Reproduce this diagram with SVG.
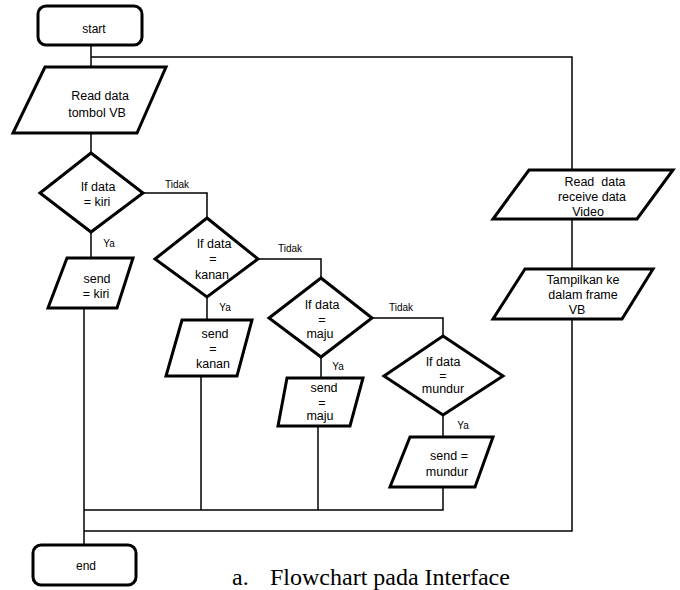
<svg xmlns="http://www.w3.org/2000/svg" width="680" height="590" viewBox="0 0 680 590">
<style>
.shape{fill:#fff;stroke:#000;stroke-width:3;stroke-linejoin:miter}
.conn{fill:none;stroke:#000;stroke-width:1.5}
.t{font-family:"Liberation Sans",Arial,sans-serif;font-size:12.5px;fill:#000;text-anchor:middle}
.term{font-family:"Liberation Sans",Arial,sans-serif;font-size:12px;fill:#000;text-anchor:middle}
.lbl{font-family:"Liberation Sans",Arial,sans-serif;font-size:10px;fill:#000;text-anchor:middle}
.cap{font-family:"Liberation Serif","Times New Roman",serif;font-size:24px;fill:#000}
</style>
<rect width="680" height="590" fill="#fff"/>
<g id="connectors">
<path class="conn" d="M91,45 V67"/>
<path class="conn" d="M91,57 H572 V170"/>
<path class="conn" d="M91,133 V153"/>
<path class="conn" d="M91,232 V258"/>
<path class="conn" d="M143,193 H207 V218"/>
<path class="conn" d="M207,297 V320"/>
<path class="conn" d="M258,259 H321 V278"/>
<path class="conn" d="M321,357 V378"/>
<path class="conn" d="M372,318 H443 V336"/>
<path class="conn" d="M443,415 V437"/>
<path class="conn" d="M84,308 V545"/>
<path class="conn" d="M201,376 V510"/>
<path class="conn" d="M318,426 V510"/>
<path class="conn" d="M443,487 V510 H84"/>
<path class="conn" d="M572,219 V269"/>
<path class="conn" d="M572,319 V531 H84"/>
<text class="lbl" x="177" y="188">Tidak</text>
<text class="lbl" x="109" y="247">Ya</text>
<text class="lbl" x="290" y="252">Tidak</text>
<text class="lbl" x="225" y="311">Ya</text>
<text class="lbl" x="401" y="311">Tidak</text>
<text class="lbl" x="338" y="370">Ya</text>
<text class="lbl" x="463" y="429">Ya</text>
</g>
<g id="start">
<rect class="shape" x="38" y="6" width="104" height="39" rx="8"/>
<text class="term" x="94" y="33">start</text>
</g>
<g id="read-tombol">
<polygon class="shape" points="45,67 166,67 137,133 13,133"/>
<text class="t" x="100" y="100">Read data</text>
<text class="t" x="97" y="117">tombol VB</text>
</g>
<g id="if-kiri">
<polygon class="shape" points="91,153 143,193 91,232 40,193"/>
<text class="t" x="98" y="191">If data</text>
<text class="t" x="97" y="206">= kiri</text>
</g>
<g id="send-kiri">
<polygon class="shape" points="67,258 133,258 117,308 48,308"/>
<text class="t" x="97" y="283">send</text>
<text class="t" x="96" y="298">= kiri</text>
</g>
<g id="if-kanan">
<polygon class="shape" points="207,218 258,259 207,297 155,259"/>
<text class="t" x="214" y="248">If data</text>
<text class="t" x="213" y="263">=</text>
<text class="t" x="212" y="279">kanan</text>
</g>
<g id="send-kanan">
<polygon class="shape" points="182,320 252,320 237,376 166,376"/>
<text class="t" x="215" y="338">send</text>
<text class="t" x="213" y="353">=</text>
<text class="t" x="213" y="368">kanan</text>
</g>
<g id="if-maju">
<polygon class="shape" points="321,278 372,318 321,357 269,318"/>
<text class="t" x="322" y="309">If data</text>
<text class="t" x="322" y="324">=</text>
<text class="t" x="320" y="338">maju</text>
</g>
<g id="send-maju">
<polygon class="shape" points="287,378 363,378 350,426 278,426"/>
<text class="t" x="324" y="392">send</text>
<text class="t" x="322" y="407">=</text>
<text class="t" x="320" y="420">maju</text>
</g>
<g id="if-mundur">
<polygon class="shape" points="443,336 503,376 443,415 384,376"/>
<text class="t" x="443" y="366">If data</text>
<text class="t" x="443" y="380">=</text>
<text class="t" x="443" y="393">mundur</text>
</g>
<g id="send-mundur">
<polygon class="shape" points="410,437 493,437 475,487 390,487"/>
<text class="t" x="449" y="460">send =</text>
<text class="t" x="447" y="476">mundur</text>
</g>
<g id="read-video">
<polygon class="shape" points="529,170 673,170 637,219 493,219"/>
<text class="t" x="595" y="186" xml:space="preserve">Read  data</text>
<text class="t" x="592" y="201">receive data</text>
<text class="t" x="588" y="216">Video</text>
</g>
<g id="tampilkan">
<polygon class="shape" points="525,269 653,269 622,319 493,319"/>
<text class="t" x="583" y="284">Tampilkan ke</text>
<text class="t" x="583" y="299">dalam frame</text>
<text class="t" x="577" y="314">VB</text>
</g>
<g id="end">
<rect class="shape" x="33" y="545" width="103" height="40" rx="8"/>
<text class="term" x="86" y="570">end</text>
</g>
<g id="caption">
<text class="cap" x="232" y="585">a.</text>
<text class="cap" x="270" y="585">Flowchart pada Interface</text>
</g>
</svg>
